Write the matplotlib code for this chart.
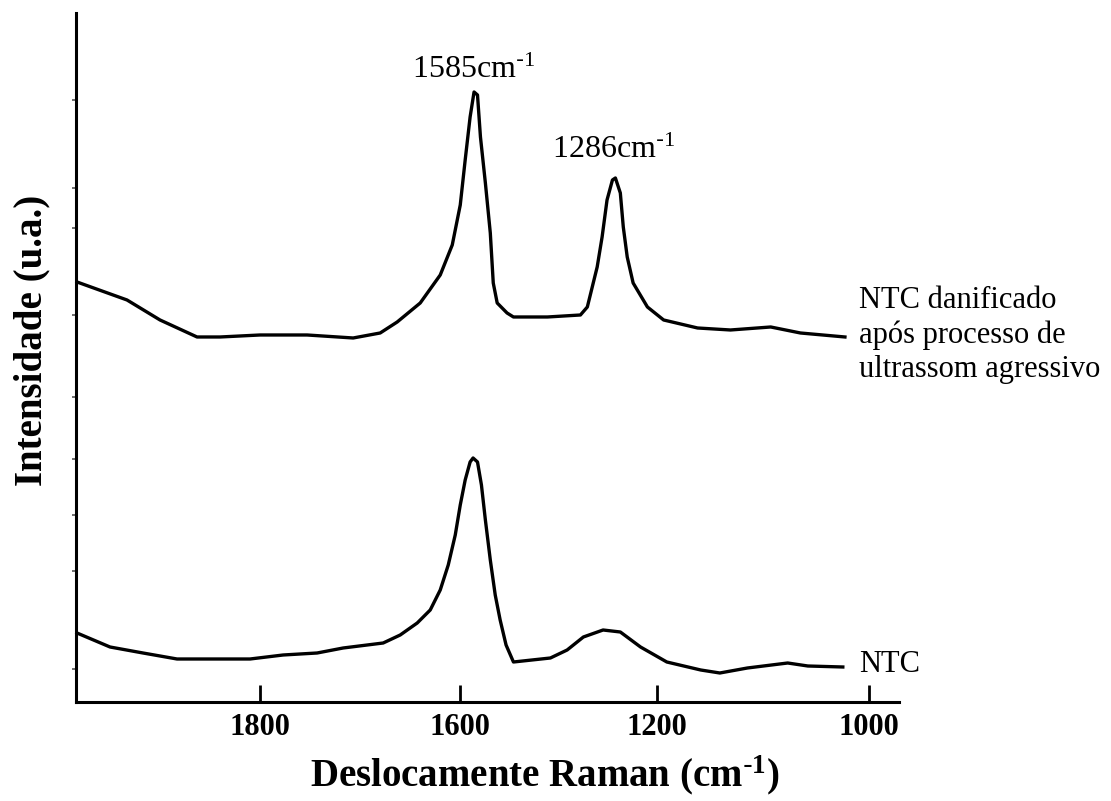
import numpy as np
import matplotlib
matplotlib.use("Agg")
import matplotlib.pyplot as plt

plt.rcParams['font.family'] = ['Liberation Serif', 'DejaVu Serif']
plt.rcParams['mathtext.default'] = 'regular'

# Raman shift (cm-1) and intensity (a.u.)
w_damaged = [1983, 1933, 1900, 1863, 1840, 1800, 1753, 1707, 1680, 1663, 1640, 1620,
             1608, 1600, 1590, 1580, 1572, 1565, 1559, 1549, 1539, 1533, 1525, 1505,
             1492, 1423, 1356, 1342, 1322, 1312, 1302, 1291, 1285, 1275, 1269, 1261,
             1249, 1220, 1194, 1162, 1131, 1093, 1065, 1023]
i_damaged = [420, 402, 382, 365, 365, 367, 367, 364, 369, 380, 399, 427,
             457, 497, 542, 585, 610, 607, 565, 519, 469, 419, 399, 389,
             385, 385, 387, 395, 435, 465, 502, 522, 524, 509, 475, 445,
             419, 395, 382, 374, 372, 375, 369, 365]

w_ntc = [1983, 1950, 1917, 1883, 1810, 1777, 1743, 1717, 1677, 1660, 1643, 1630,
         1620, 1612, 1605, 1600, 1590, 1580, 1574, 1565, 1557, 1549, 1539, 1529,
         1519, 1507, 1492, 1417, 1383, 1350, 1310, 1275, 1234, 1191, 1159, 1141,
         1115, 1077, 1058, 1025]
i_ntc = [69, 55, 49, 43, 43, 47, 49, 54, 59, 67, 79, 92,
         112, 137, 167, 197, 222, 240, 244, 240, 217, 182, 142, 107,
         82, 57, 40, 44, 52, 65, 72, 70, 55, 40, 32, 29,
         34, 39, 36, 35]

x_ticks = [1800, 1600, 1200, 1000]
y_ticks = [33, 131, 187, 243, 305, 387, 474, 514, 602]

# the original axis is not linear: ticks evenly spaced but labelled 1800/1600/1200/1000
scale_w = [800, 1000, 1200, 1600, 1800, 2200]
scale_u = [-1.0, 0.0, 1.0, 1.929, 2.873, 4.76]

def forward(w):
    return np.interp(w, scale_w, scale_u)

def inverse(u):
    return np.interp(u, scale_u, scale_w)

fig = plt.figure(figsize=(11.11, 8.01), dpi=100)
ax = fig.add_axes([0.0684, 0.1236, 0.7408, 0.8602])
ax.set_xscale('function', functions=(forward, inverse))

ax.plot(w_damaged, i_damaged, color='black', lw=2.4, clip_on=False,
        solid_joinstyle='round')
ax.plot(w_ntc, i_ntc, color='black', lw=2.4, clip_on=False,
        solid_joinstyle='round')

ax.set_xlim(1984, 972)
ax.set_ylim(0, 689)

ax.spines['top'].set_visible(False)
ax.spines['right'].set_visible(False)
ax.spines['left'].set_linewidth(2.2)
ax.spines['bottom'].set_linewidth(2.2)

ax.set_xticks(x_ticks)
ax.set_xticklabels([str(t) for t in x_ticks], fontsize=22, fontweight='bold')
ax.xaxis.set_minor_locator(matplotlib.ticker.NullLocator())
ax.tick_params(axis='x', direction='in', length=12, width=2, pad=8)
ax.set_yticks(y_ticks)
ax.set_yticklabels([])
ax.tick_params(axis='y', direction='out', length=3, width=1.2, color='#555555')

sup = r'$^{\text{-}1}$'
ax.set_xlabel('Deslocamente Raman (cm' + sup + ')', fontsize=28, fontweight='bold', va='center')
ax.xaxis.set_label_coords(0.57, -0.106)
ax.set_ylabel('Intensidade (u.a.)', fontsize=28, fontweight='bold', va='center')
ax.yaxis.set_label_coords(-0.0535, 0.525)

ax.text(1572, 632, '1585cm' + sup, fontsize=23, ha='center', va='center')
ax.text(1289, 552, '1286cm' + sup, fontsize=23, ha='center', va='center')
ax.text(1010, 367, 'NTC danificado\napós processo de\nultrassom agressivo',
        fontsize=22, ha='left', va='center', linespacing=1.25, clip_on=False)
ax.text(1010, 37, 'NTC', fontsize=22, ha='left', va='center', clip_on=False)

fig.savefig('out.png', dpi=100)
